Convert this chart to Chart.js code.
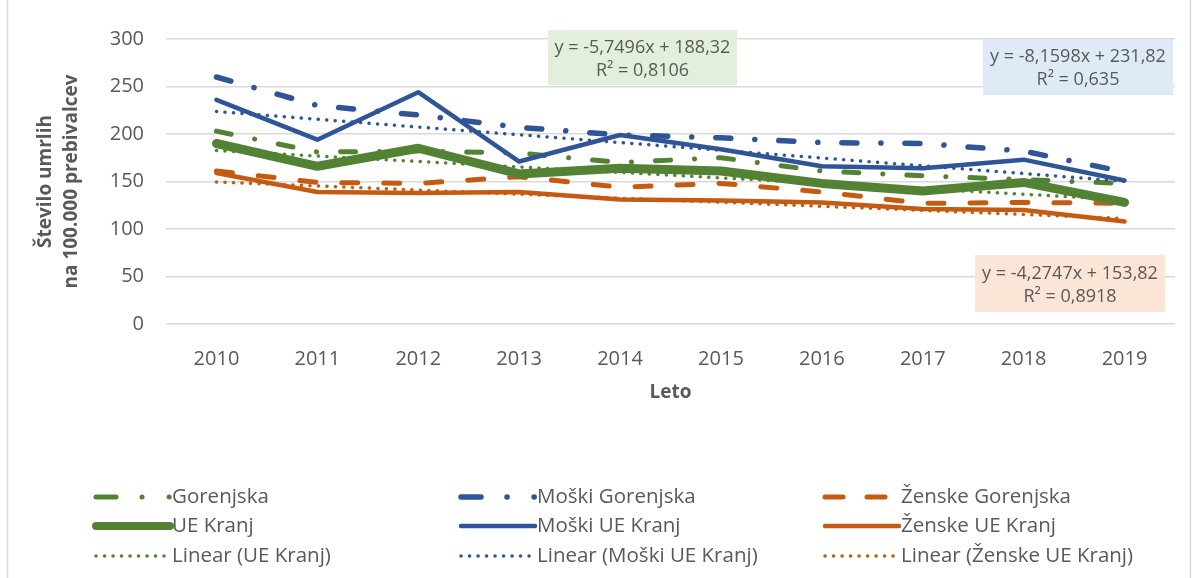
<!DOCTYPE html>
<html>
<head>
<meta charset="utf-8">
<script src="https://cdn.jsdelivr.net/npm/chart.js@4"></script>
<style>
  html, body { margin: 0; padding: 0; background: #fff; }
  #wrap { width: 1192px; height: 578px; position: relative; }
</style>
</head>
<body>
<div id="wrap"><canvas id="deathsChart" width="1192" height="578"></canvas></div>
<script>
// data
const years = ["2010", "2011", "2012", "2013", "2014", "2015", "2016", "2017", "2018", "2019"];
const gorenjska = [203, 181, 182, 180, 170, 175, 161, 156, 152, 148];
const moskiGorenjska = [260, 230, 220, 207, 199, 196, 191, 190, 182, 160];
const zenskeGorenjska = [161, 149, 148, 155, 144, 148, 139, 127, 128, 127];
const ueKranj = [190, 166, 185, 158, 164, 161, 148, 140, 149, 128];
const moskiUeKranj = [236, 194, 244, 171, 199, 184, 166, 164, 173, 151];
const zenskeUeKranj = [159, 139, 138, 139, 131, 130, 128, 121, 120, 108];
// trend lines as shown by the equations on the chart
const trendUeKranj = [182.6, 176.8, 171.1, 165.3, 159.6, 153.8, 148.1, 142.3, 136.6, 130.8];
const trendMoski = [223.7, 215.5, 207.3, 199.2, 191.0, 182.9, 174.7, 166.5, 158.4, 150.2];
const trendZenske = [149.5, 145.3, 141.0, 136.7, 132.4, 128.2, 123.9, 119.6, 115.3, 111.1];
const yTicks = [0, 50, 100, 150, 200, 250, 300];

const eqUeKranj = ["y = -5,7496x + 188,32", "R² = 0,8106"];
const eqMoski = ["y = -8,1598x + 231,82", "R² = 0,635"];
const eqZenske = ["y = -4,2747x + 153,82", "R² = 0,8918"];

const GREEN = "#548235";
const BLUE = "#2f5597";
const ORANGE = "#c55a11";
const TEXT = "#595959";
const FONT = "'Open Sans', sans-serif";

const dashDot = [15, 24, 0.1, 24];
const dashed = [16, 26];
const dotted = [0.1, 8.4];

function ds(label, data, color, width, dash, order, legendDash) {
  return {
    label: label,
    data: data,
    borderColor: color,
    backgroundColor: color,
    borderWidth: width,
    borderDash: dash,
    borderCapStyle: "round",
    borderJoinStyle: "round",
    pointRadius: 0,
    pointHoverRadius: 0,
    tension: 0,
    fill: false,
    order: order,
    legendDash: legendDash || dash,
  };
}

const datasets = [
  ds("Gorenjska", gorenjska, GREEN, 5, dashDot, 9, [20, 26, 0.1, 27, 0.1, 100]),
  ds("Moški Gorenjska", moskiGorenjska, BLUE, 5.5, dashDot, 8, [20, 26, 0.1, 27, 0.1, 100]),
  ds("Ženske Gorenjska", zenskeGorenjska, ORANGE, 5, dashed, 7, [18, 24]),
  ds("UE Kranj", ueKranj, GREEN, 9, [], 6),
  ds("Moški UE Kranj", moskiUeKranj, BLUE, 4.5, [], 5),
  ds("Ženske UE Kranj", zenskeUeKranj, ORANGE, 4.5, [], 4),
  ds("Linear (UE Kranj)", trendUeKranj, GREEN, 3.5, dotted, 3),
  ds("Linear (Moški UE Kranj)", trendMoski, BLUE, 3.5, dotted, 2),
  ds("Linear (Ženske UE Kranj)", trendZenske, ORANGE, 3.5, dotted, 1),
];

// equation boxes
const eqBoxes = [
  { lines: eqUeKranj, fill: "#e2efda", x: 548, y: 30, w: 189, h: 55 },
  { lines: eqMoski, fill: "#deebf7", x: 983, y: 39, w: 190, h: 56 },
  { lines: eqZenske, fill: "#fbe5d6", x: 975, y: 255, w: 190, h: 57 },
];

const extras = {
  id: "extras",
  beforeDraw(chart) {
    const ctx = chart.ctx;
    ctx.save();
    ctx.strokeStyle = "#d9d9d9";
    ctx.lineWidth = 1.5;
    ctx.beginPath();
    ctx.moveTo(7.5, 0);
    ctx.lineTo(7.5, 578);
    ctx.moveTo(1190.5, 0);
    ctx.lineTo(1190.5, 578);
    ctx.stroke();
    ctx.restore();
  },
  afterDraw(chart) {
    const ctx = chart.ctx;
    ctx.save();
    // trendline labels
    ctx.font = "18px " + FONT;
    ctx.textAlign = "center";
    ctx.textBaseline = "middle";
    eqBoxes.forEach((b) => {
      ctx.fillStyle = b.fill;
      ctx.fillRect(b.x, b.y, b.w, b.h);
      ctx.fillStyle = TEXT;
      ctx.fillText(b.lines[0], b.x + b.w / 2, b.y + b.h / 2 - 10);
      ctx.fillText(b.lines[1], b.x + b.w / 2, b.y + b.h / 2 + 13);
    });

    // legend: 3 columns x 3 rows
    const cols = [93, 458, 822];
    const rows = [497, 526, 556];
    ctx.textAlign = "left";
    ctx.font = "20.5px " + FONT;
    chart.data.datasets.forEach((d, i) => {
      const x = cols[i % 3];
      const y = rows[Math.floor(i / 3)];
      ctx.strokeStyle = d.borderColor;
      ctx.lineWidth = Math.min(d.borderWidth, 8);
      ctx.lineCap = "round";
      ctx.setLineDash(d.legendDash);
      ctx.beginPath();
      ctx.moveTo(x + 3, y);
      ctx.lineTo(x + 77, y);
      ctx.stroke();
      ctx.setLineDash([]);
      ctx.fillStyle = TEXT;
      ctx.fillText(d.label, x + 79, y);
    });
    ctx.restore();
  },
};

const ctx = document.getElementById("deathsChart").getContext("2d");
new Chart(ctx, {
  type: "line",
  data: { labels: years, datasets: datasets },
  options: {
    responsive: false,
    animation: false,
    devicePixelRatio: 1,
    layout: { padding: { top: 39, right: 17, bottom: 174, left: 32 } },
    plugins: { legend: { display: false }, tooltip: { enabled: false } },
    scales: {
      x: {
        offset: true,
        grid: { display: false },
        border: { display: false },
        ticks: { color: TEXT, font: { family: FONT, size: 20 }, padding: 15, maxRotation: 0 },
        title: { display: true, text: "Leto", color: TEXT, font: { family: FONT, size: 19, weight: "bold" }, padding: { top: 0, bottom: 0 } },
        afterFit(scale) { scale.height = 80; },
      },
      y: {
        min: 0,
        max: 300,
        afterBuildTicks(scale) { scale.ticks = yTicks.map((v) => ({ value: v })); },
        grid: { color: "#d9d9d9", lineWidth: 1.5, drawTicks: false },
        border: { display: false },
        ticks: { color: TEXT, font: { family: FONT, size: 20 }, padding: 22 },
        title: {
          display: true,
          text: ["Število umrlih", "na 100.000 prebivalcev"],
          color: TEXT,
          font: { family: FONT, size: 19, weight: "bold", lineHeight: 1.4 },
          padding: { top: 0, bottom: 0 },
        },
        afterFit(scale) { scale.width = 134; },
      },
    },
  },
  plugins: [extras],
});
</script>
</body>
</html>
